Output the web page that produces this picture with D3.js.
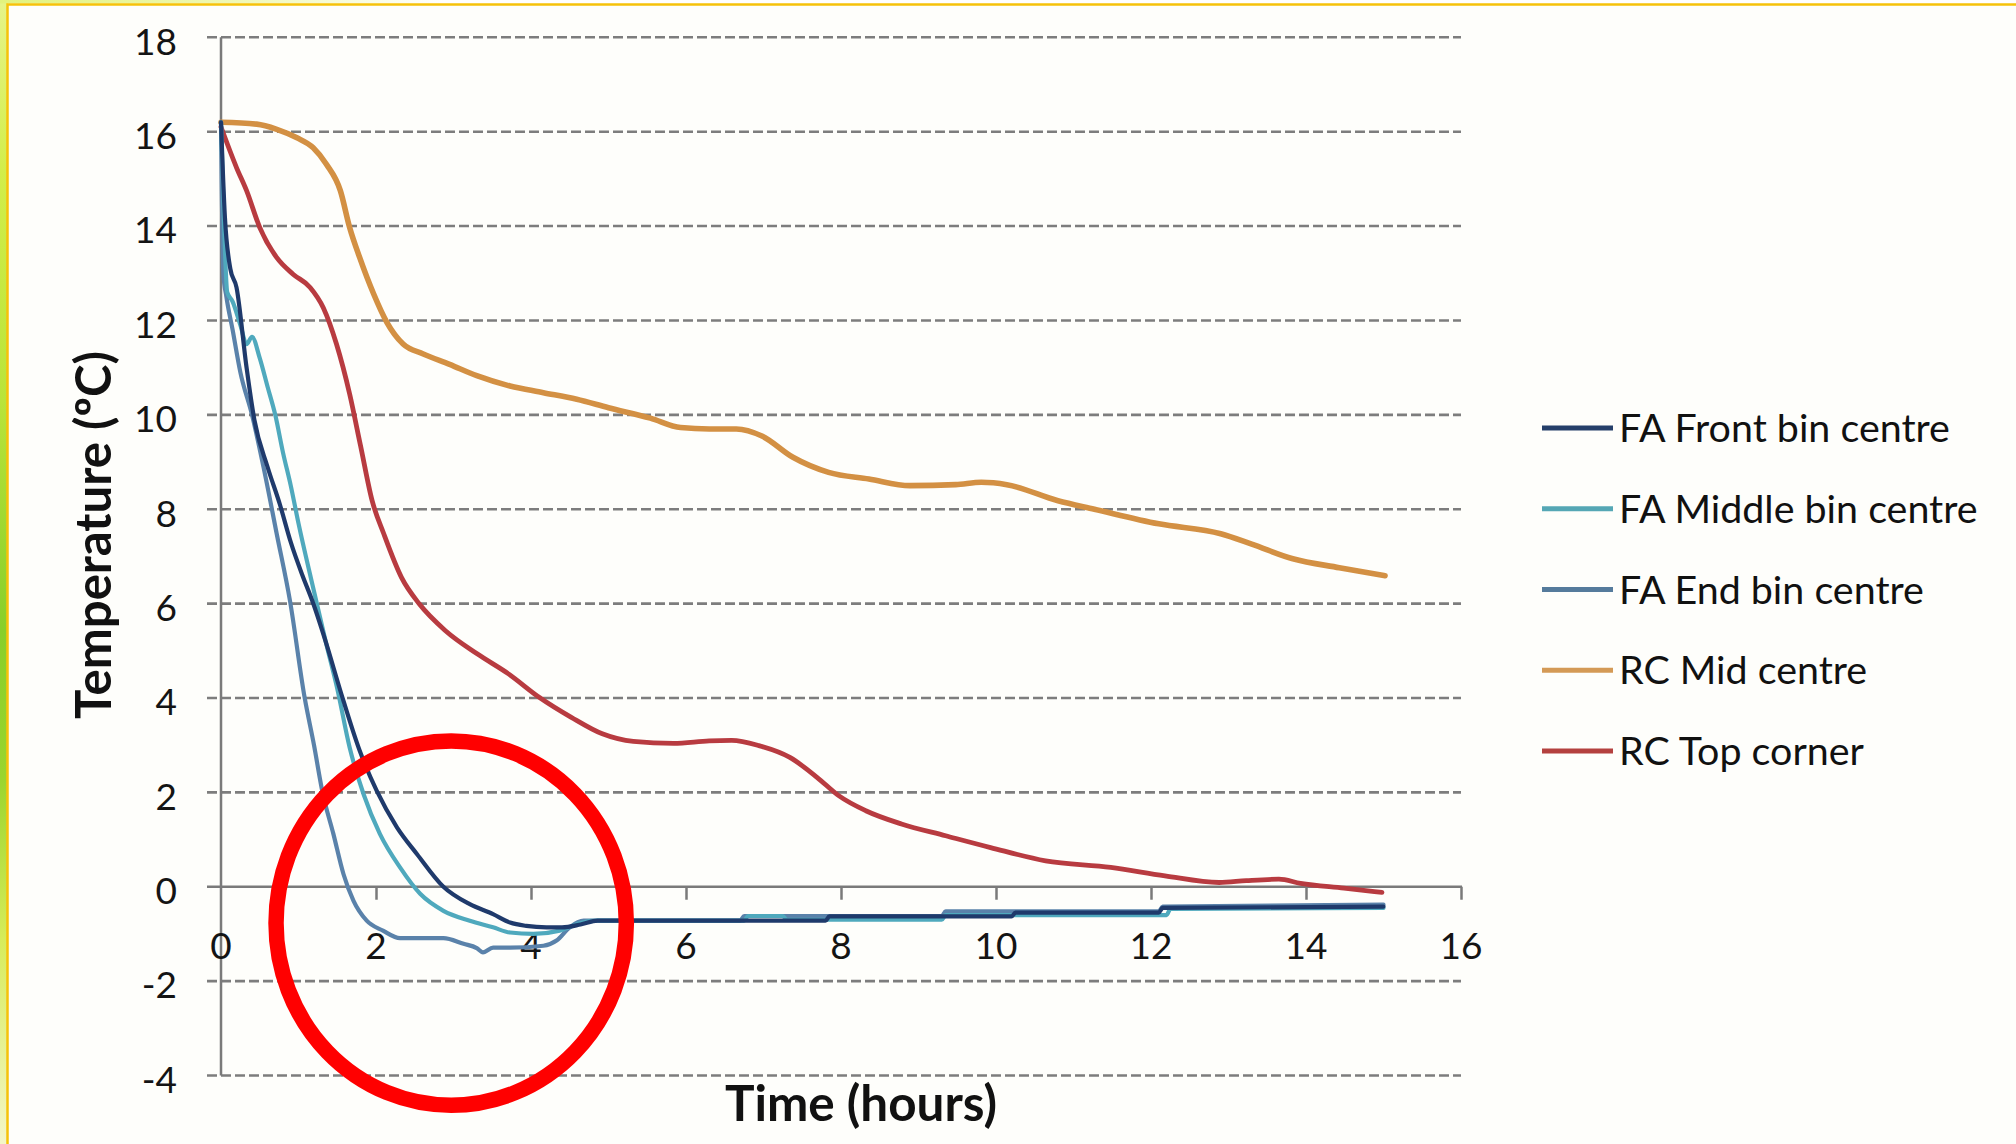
<!DOCTYPE html>
<html><head><meta charset="utf-8">
<script src="https://cdn.jsdelivr.net/npm/d3@7"></script>
<style>html,body{margin:0;padding:0;background:#fefefb;} svg{display:block}</style>
</head><body>
<svg id="chart" width="2016" height="1144"></svg>
<script>
// ---------------- DATA ----------------
const seriesNames = ["FA Front bin centre", "FA Middle bin centre", "FA End bin centre", "RC Mid centre", "RC Top corner"];

const frontTime = [0, 0.05, 0.12, 0.2, 0.33, 0.43, 0.6, 0.76, 0.9, 1.05, 1.18, 1.35, 1.55, 1.79, 2.01, 2.27, 2.53, 2.87, 3.21, 3.51, 3.73, 3.94, 4.2, 4.4, 4.64, 4.86, 6.0, 7.8, 7.85, 10.2, 10.25, 12.1, 12.15, 15.0];
const frontTemp = [16.2, 14.2, 13.1, 12.7, 11.0, 9.9, 8.9, 8.1, 7.3, 6.6, 6.05, 5.2, 4.1, 2.88, 2.03, 1.26, 0.69, 0.0, -0.37, -0.58, -0.76, -0.83, -0.86, -0.86, -0.8, -0.72, -0.72, -0.72, -0.63, -0.63, -0.55, -0.55, -0.45, -0.42];

const middleTime = [0, 0.04, 0.08, 0.15, 0.25, 0.33, 0.4, 0.5, 0.6, 0.7, 0.8, 0.9, 1.0, 1.18, 1.35, 1.5, 1.66, 1.84, 2.05, 2.31, 2.57, 2.87, 3.21, 3.51, 3.73, 4.03, 4.37, 4.64, 4.86, 6.75, 6.8, 7.25, 7.3, 9.3, 9.35, 12.2, 12.25, 15.0];
const middleTemp = [16.2, 14.0, 12.6, 12.4, 11.9, 11.5, 11.65, 11.2, 10.6, 10.0, 9.2, 8.5, 7.7, 6.4, 5.2, 4.2, 2.95, 1.96, 1.12, 0.41, -0.15, -0.51, -0.72, -0.86, -0.97, -1.0, -0.93, -0.77, -0.72, -0.72, -0.62, -0.62, -0.7, -0.7, -0.6, -0.6, -0.47, -0.45];

const endTime = [0, 0.03, 0.07, 0.15, 0.25, 0.4, 0.55, 0.72, 0.89, 1.08, 1.2, 1.31, 1.45, 1.58, 1.71, 1.88, 2.09, 2.31, 2.87, 3.13, 3.3, 3.38, 3.51, 3.73, 4.16, 4.33, 4.5, 4.68, 6.7, 6.75, 9.3, 9.35, 12.1, 12.15, 15.0];
const endTemp = [16.2, 13.0, 12.5, 11.8, 10.9, 10.0, 8.88, 7.47, 6.06, 4.0, 3.0, 2.0, 1.12, 0.27, -0.3, -0.72, -0.93, -1.09, -1.09, -1.21, -1.3, -1.39, -1.29, -1.29, -1.25, -1.14, -0.86, -0.72, -0.72, -0.62, -0.62, -0.52, -0.52, -0.42, -0.38];

const rcMidTime = [0, 0.46, 0.72, 0.98, 1.19, 1.36, 1.54, 1.66, 1.79, 1.97, 2.14, 2.35, 2.61, 2.95, 3.3, 3.73, 4.16, 4.59, 5.0, 5.54, 5.93, 6.3, 6.65, 6.98, 7.38, 7.84, 8.36, 8.89, 9.48, 9.81, 10.14, 10.8, 11.27, 12.1, 12.9, 13.3, 13.83, 14.43, 15.02];
const rcMidTemp = [16.2, 16.16, 16.05, 15.87, 15.66, 15.31, 14.75, 13.97, 13.33, 12.56, 11.96, 11.5, 11.29, 11.07, 10.83, 10.61, 10.47, 10.33, 10.15, 9.93, 9.73, 9.7, 9.7, 9.55, 9.1, 8.78, 8.64, 8.5, 8.52, 8.57, 8.52, 8.18, 8.0, 7.69, 7.48, 7.26, 6.95, 6.76, 6.59];

const rcTopTime = [0, 0.2, 0.33, 0.5, 0.72, 0.93, 1.15, 1.32, 1.49, 1.66, 1.8, 1.95, 2.1, 2.33, 2.56, 2.9, 3.31, 3.71, 4.11, 4.52, 4.92, 5.32, 5.84, 6.3, 6.59, 6.94, 7.34, 7.69, 7.97, 8.32, 8.78, 9.35, 9.93, 10.64, 11.48, 12.18, 12.88, 13.23, 13.65, 13.93, 14.49, 14.98];
const rcTopTemp = [16.1, 15.24, 14.75, 13.97, 13.33, 12.98, 12.7, 12.27, 11.5, 10.44, 9.35, 8.18, 7.48, 6.55, 5.99, 5.42, 4.93, 4.51, 4.01, 3.59, 3.24, 3.08, 3.04, 3.09, 3.1, 2.99, 2.74, 2.32, 1.93, 1.61, 1.33, 1.08, 0.83, 0.55, 0.41, 0.23, 0.09, 0.13, 0.16, 0.07, -0.03, -0.12];

const xTickValues = [0, 2, 4, 6, 8, 10, 12, 14, 16];
const yTickValues = [18, 16, 14, 12, 10, 8, 6, 4, 2, 0, -2, -4];
const xTitle = "Time (hours)";
const yTitle = "Temperature (ºC)";

// ---------------- STYLE / LAYOUT ----------------
const W = 2016, H = 1144;
const FONT = "Lato, 'Open Sans', 'DejaVu Sans', sans-serif";
const colors = ["#1f3a6b", "#4fa9bd", "#5a82aa", "#d39043", "#b83b40"];
const legendColors = ["#253f6a", "#55a7b5", "#557b9c", "#d49a56", "#b4413f"];
const widths = [4.2, 4.2, 4.2, 5.6, 4.8];

const series = [
  {name: seriesNames[0], t: frontTime, v: frontTemp},
  {name: seriesNames[1], t: middleTime, v: middleTemp},
  {name: seriesNames[2], t: endTime, v: endTemp},
  {name: seriesNames[3], t: rcMidTime, v: rcMidTemp},
  {name: seriesNames[4], t: rcTopTime, v: rcTopTemp}
].map((s, i) => ({...s, i, pts: s.t.map((tt, k) => [tt, s.v[k]])}));

const x = d3.scaleLinear().domain([0, 16]).range([221, 1461]);
const y = d3.scaleLinear().domain([-4, 18]).range([1075.5, 37.3]);

const svg = d3.select("#chart");
const defs = svg.append("defs");

// background / slide frame
svg.append("rect").attr("width", W).attr("height", H).attr("fill", "#fefefb");
const lg = defs.append("linearGradient").attr("id", "leftStrip").attr("x1", 0).attr("y1", 0).attr("x2", 0).attr("y2", 1);
[["0%", "#e6f48a"], ["15%", "#d2ee4a"], ["35%", "#b9e43a"], ["55%", "#88cf2a"], ["68%", "#9ad52e"], ["82%", "#d6ec5a"], ["100%", "#f4f6c8"]]
  .forEach(([o, c]) => lg.append("stop").attr("offset", o).attr("stop-color", c));
const tg = defs.append("linearGradient").attr("id", "topStrip").attr("x1", 0).attr("y1", 0).attr("x2", 1).attr("y2", 0);
[["0%", "#e2f27c"], ["12%", "#f0f8b8"], ["22%", "#ffffff"], ["100%", "#ffffff"]]
  .forEach(([o, c]) => tg.append("stop").attr("offset", o).attr("stop-color", c));
svg.append("rect").attr("x", 0).attr("y", 0).attr("width", 8).attr("height", H).attr("fill", "url(#leftStrip)");
svg.append("rect").attr("x", 0).attr("y", 0).attr("width", W).attr("height", 3.5).attr("fill", "url(#topStrip)");
svg.append("path").attr("d", `M7.5,${H} V4.5 H${W}`).attr("fill", "none").attr("stroke", "#f6c20a").attr("stroke-width", 2.5);

// gridlines (dashed)
const gridG = svg.append("g");
gridG.selectAll("line").data(yTickValues.filter(v => v !== 0)).join("line")
  .attr("x1", 207).attr("x2", x(16))
  .attr("y1", d => y(d)).attr("y2", d => y(d))
  .attr("stroke", "#7d7d7d").attr("stroke-width", 2.6).attr("stroke-dasharray", "10,4");

// y axis line
svg.append("line").attr("x1", x(0)).attr("x2", x(0)).attr("y1", y(18)).attr("y2", y(-4))
  .attr("stroke", "#7a7a7a").attr("stroke-width", 2.5);

// x axis (at 0) with ticks
const xAxisG = svg.append("g").attr("transform", `translate(0,${y(0)})`)
  .call(d3.axisBottom(x).tickValues(xTickValues.filter(v => v > 0)).tickSize(13).tickFormat(""));
xAxisG.select(".domain").remove();
xAxisG.selectAll(".tick line").attr("stroke", "#7a7a7a").attr("stroke-width", 2.5);
svg.append("line").attr("x1", 207).attr("x2", x(16) + 1).attr("y1", y(0)).attr("y2", y(0))
  .attr("stroke", "#7a7a7a").attr("stroke-width", 2.5);

// x tick labels
svg.append("g").selectAll("text").data(xTickValues).join("text")
  .attr("x", d => x(d)).attr("y", y(0) + 59).attr("dy", "0.36em")
  .attr("text-anchor", "middle").attr("font-family", FONT).attr("font-size", 37).attr("fill", "#141414")
  .text(d => d);

// y tick labels
svg.append("g").selectAll("text").data(yTickValues).join("text")
  .attr("x", 177).attr("y", d => y(d) + 4).attr("dy", "0.36em")
  .attr("text-anchor", "end").attr("font-family", FONT).attr("font-size", 37).attr("fill", "#141414")
  .text(d => d);

// lines
const line = d3.line().x(d => x(d[0])).y(d => y(d[1])).curve(d3.curveMonotoneX);
const drawOrder = [3, 4, 2, 1, 0];
svg.append("g").selectAll("path").data(drawOrder.map(i => series[i])).join("path")
  .attr("d", d => line(d.pts)).attr("fill", "none")
  .attr("stroke", d => colors[d.i]).attr("stroke-width", d => widths[d.i])
  .attr("stroke-linejoin", "round").attr("stroke-linecap", "round");

// axis titles
function fit(sel, target) {
  const w = sel.node().getComputedTextLength();
  const fs = parseFloat(sel.attr("font-size"));
  sel.attr("font-size", (fs * target / w).toFixed(2));
}
const xt = svg.append("text").attr("x", 861).attr("y", 1121).attr("text-anchor", "middle")
  .attr("font-family", FONT).attr("font-weight", "bold").attr("font-size", 46).attr("fill", "#111").text(xTitle);
fit(xt, 272);
const yt = svg.append("text").attr("transform", "translate(111,535) rotate(-90)").attr("text-anchor", "middle")
  .attr("font-family", FONT).attr("font-weight", "bold").attr("font-size", 43).attr("fill", "#111").text(yTitle);
fit(yt, 368);

// legend
const legG = svg.append("g");
const rows = legG.selectAll("g").data(series).join("g")
  .attr("transform", (d, i) => `translate(0,${428 + i * 80.75})`);
rows.append("line").attr("x1", 1542).attr("x2", 1613).attr("y1", 0).attr("y2", 0)
  .attr("stroke", d => legendColors[d.i]).attr("stroke-width", 4.8);
const legTexts = rows.append("text").attr("x", 1619).attr("y", 0).attr("dy", "0.36em")
  .attr("font-family", FONT).attr("font-size", 39).attr("fill", "#111").text(d => d.name);
{
  const first = legTexts.filter((d, i) => i === 0);
  const w = first.node().getComputedTextLength();
  const fs = 39 * 331 / w;
  legTexts.attr("font-size", fs.toFixed(2));
}

// red circle annotation (drawn over the chart)
svg.append("ellipse")
  .attr("cx", x(2.97)).attr("cy", y(-0.77))
  .attr("rx", x(2.97 + 2.26) - x(2.97)).attr("ry", y(-0.77 - 3.86) - y(-0.77))
  .attr("fill", "none").attr("stroke", "#ff0000").attr("stroke-width", 15.5);
</script>
</body></html>
